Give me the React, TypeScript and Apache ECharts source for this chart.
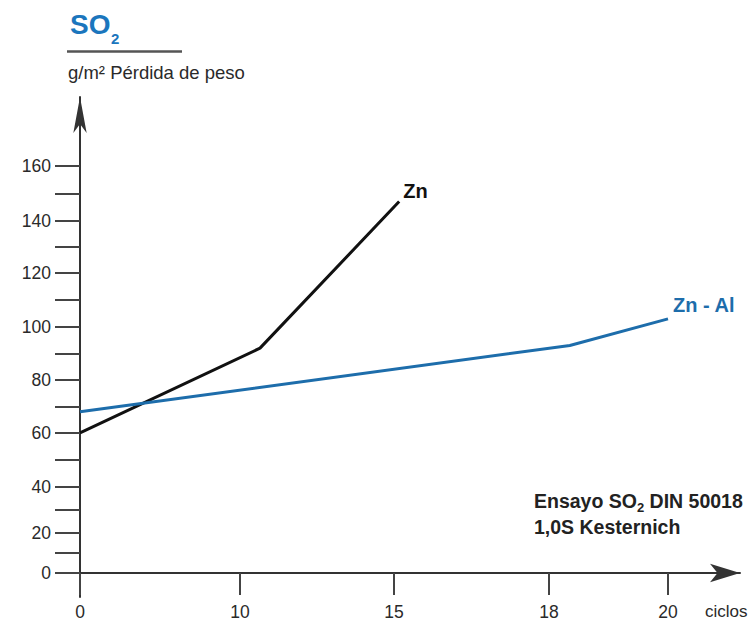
import React, { useEffect, useRef } from "react";
import * as echarts from "echarts";

// Printed x scale is not uniform: tick cycles and their axis positions
const xTickCycles = [0, 10, 15, 18, 20];
const xTickSlots = [0, 1.6, 3.14, 4.69, 5.88];
// Printed y scale is compressed near the bottom
const yTickValues = [0, 20, 40, 60, 80, 100, 120, 140, 160];
const yTickSlots = [0, 0.755, 1.623, 2.642, 3.642, 4.642, 5.66, 6.642, 7.685];
const yMinorValues = [10, 30, 50, 70, 90, 110, 130, 150];

// Series (cycles, g/m² weight loss)
const znCycles = [0, 10.65, 15.1];
const znLoss = [60, 92, 147];
const znAlCycles = [0, 18.35, 20];
const znAlLoss = [68, 93, 103];

const FONT = "'Liberation Sans', Arial, sans-serif";
const BLUE = "#1d6dab";
const TITLE_BLUE = "#1b76bd";

function interp(v: number, xs: number[], ys: number[]): number {
  if (v <= xs[0]) return ys[0] + (v - xs[0]) * (ys[1] - ys[0]) / (xs[1] - xs[0]);
  for (let i = 1; i < xs.length; i++) {
    if (v <= xs[i]) {
      return ys[i - 1] + (v - xs[i - 1]) * (ys[i] - ys[i - 1]) / (xs[i] - xs[i - 1]);
    }
  }
  const n = xs.length - 1;
  return ys[n] + (v - xs[n]) * (ys[n] - ys[n - 1]) / (xs[n] - xs[n - 1]);
}

const toX = (c: number) => interp(c, xTickCycles, xTickSlots);
const toY = (v: number) => interp(v, yTickValues, yTickSlots);

function nearestLabel(v: number, slots: number[], labels: number[]): string {
  let best = 0;
  for (let i = 1; i < slots.length; i++) {
    if (Math.abs(slots[i] - v) < Math.abs(slots[best] - v)) best = i;
  }
  return String(labels[best]);
}

export default function App() {
  const ref = useRef<HTMLDivElement>(null);
  useEffect(() => {
    document.body.style.margin = "0";
    if (!ref.current) return;
    const chart = echarts.init(ref.current, null, { renderer: "svg" });
    const yAllTicks = [...yTickValues, ...yMinorValues].sort((a, b) => a - b).map(toY);
    const option = {
      animation: false,
      textStyle: { fontFamily: FONT },
      grid: { left: 80, right: 13, top: 97, bottom: 30, containLabel: false, outerBoundsMode: "none" },
      xAxis: {
        type: "value",
        min: 0,
        max: 6.6,
        axisLine: {
          show: true,
          onZero: true,
          symbol: ["none", "arrow"],
          symbolSize: [14, 30],
          lineStyle: { color: "#333", width: 2 },
        },
        axisTick: {
          show: true,
          length: 22,
          customValues: xTickSlots,
          lineStyle: { color: "#444", width: 2 },
        },
        axisLabel: {
          customValues: xTickSlots,
          formatter: (v: number) => nearestLabel(v, xTickSlots, xTickCycles),
          margin: 6,
          fontSize: 17.5,
          color: "#2a2a2a",
          fontFamily: FONT,
        },
        splitLine: { show: false },
      },
      yAxis: {
        type: "value",
        min: -0.453,
        max: 8.98,
        axisLine: {
          show: true,
          symbol: ["none", "arrow"],
          symbolSize: [10, 36],
          lineStyle: { color: "#333", width: 2 },
        },
        axisTick: {
          show: true,
          length: 25,
          customValues: yAllTicks,
          lineStyle: { color: "#444", width: 2 },
        },
        axisLabel: {
          customValues: yTickSlots,
          formatter: (v: number) => nearestLabel(v, yTickSlots, yTickValues),
          margin: 29,
          fontSize: 17.5,
          color: "#2a2a2a",
          fontFamily: FONT,
        },
        splitLine: { show: false },
      },
      series: [
        {
          name: "Zn",
          type: "line",
          showSymbol: false,
          data: znCycles.map((c, i) => [toX(c), toY(znLoss[i])]),
          lineStyle: { color: "#111", width: 3 },
          endLabel: {
            show: true,
            formatter: "{a}",
            distance: 4,
            offset: [0, -11],
            fontSize: 20,
            fontWeight: "bold",
            color: "#111",
            fontFamily: FONT,
          },
        },
        {
          name: "Zn - Al",
          type: "line",
          showSymbol: false,
          data: znAlCycles.map((c, i) => [toX(c), toY(znAlLoss[i])]),
          lineStyle: { color: BLUE, width: 3 },
          endLabel: {
            show: true,
            formatter: "{a}",
            distance: 5,
            offset: [0, -14],
            fontSize: 20,
            fontWeight: "bold",
            color: BLUE,
            fontFamily: FONT,
          },
        },
      ],
      graphic: [
        {
          type: "text",
          left: 70,
          top: 10,
          style: { text: "SO", fontSize: 28, fontWeight: "bold", fill: TITLE_BLUE, fontFamily: FONT },
        },
        {
          type: "text",
          left: 111,
          top: 31,
          style: { text: "2", fontSize: 15, fontWeight: "bold", fill: TITLE_BLUE, fontFamily: FONT },
        },
        {
          type: "line",
          shape: { x1: 67, y1: 51.5, x2: 182, y2: 51.5 },
          style: { stroke: "#555", lineWidth: 2.5 },
        },
        {
          type: "text",
          left: 68,
          top: 63,
          style: { text: "g/m² Pérdida de peso", fontSize: 18.5, fill: "#2a2a2a", fontFamily: FONT },
        },
        {
          type: "text",
          left: 534,
          top: 491,
          style: {
            text: "{a|Ensayo SO}{s|2}{a| DIN 50018}\n{a|1,0S Kesternich}",
            fontFamily: FONT,
            rich: {
              a: { fontSize: 19.5, fontWeight: "bold", fill: "#222", lineHeight: 26, fontFamily: FONT },
              s: { fontSize: 13, fontWeight: "bold", fill: "#222", lineHeight: 13, verticalAlign: "bottom", fontFamily: FONT },
            },
          },
        },
        {
          type: "text",
          left: 705,
          top: 603,
          style: { text: "ciclos", fontSize: 17, fill: "#2a2a2a", fontFamily: FONT },
        },
      ],
    };
    chart.setOption(option as any);
    return () => chart.dispose();
  }, []);
  return <div ref={ref} style={{ width: 753, height: 627 }} />;
}
